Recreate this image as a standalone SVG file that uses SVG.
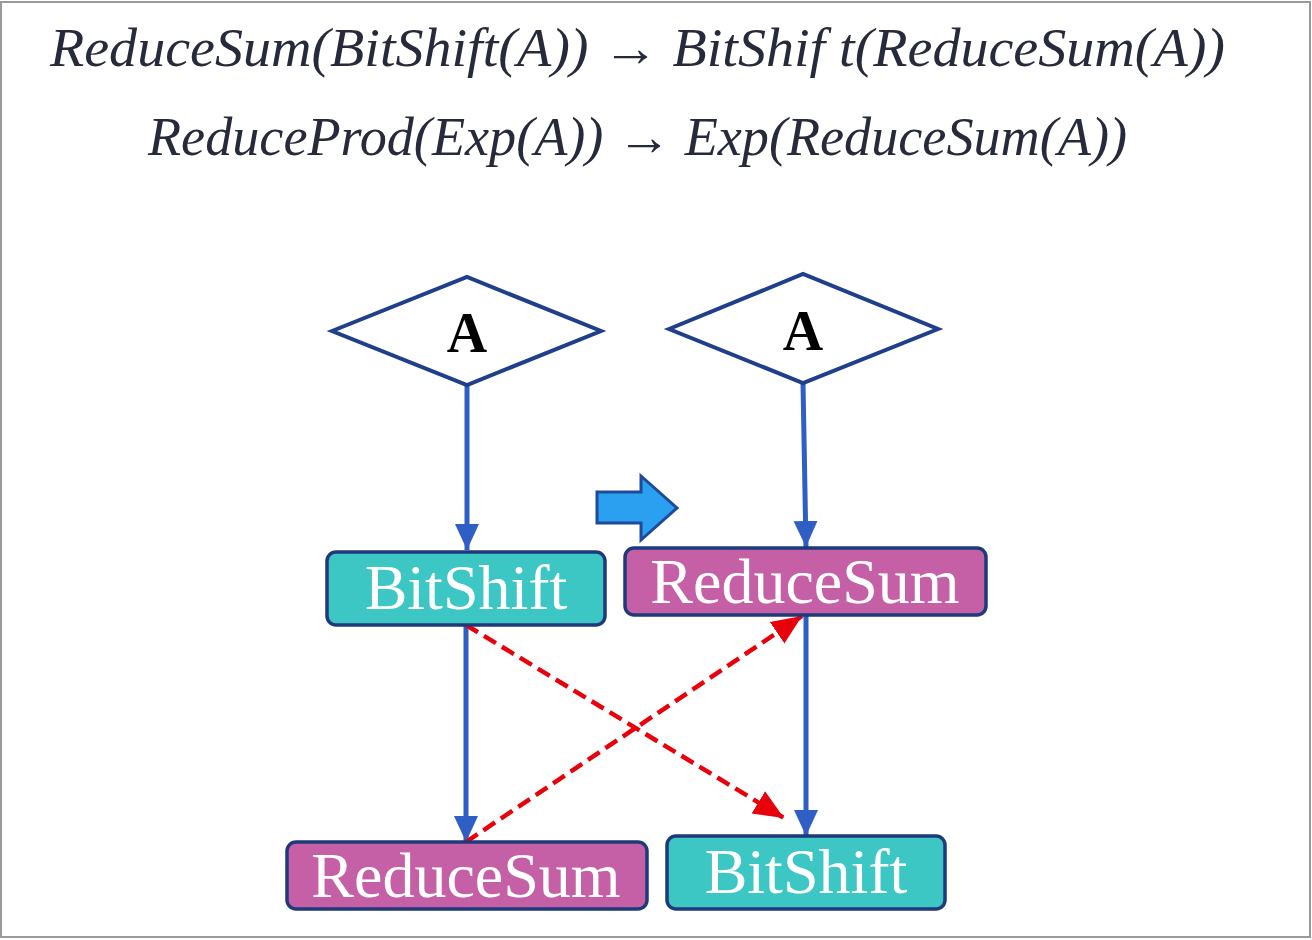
<svg xmlns="http://www.w3.org/2000/svg" width="1312" height="940" viewBox="0 0 1312 940">
<style>
.formula{font-family:"Liberation Serif","DejaVu Serif",serif;font-style:italic;font-size:54px;fill:#262a3a}
.dia{fill:#fff;stroke:#1f3f8a;stroke-width:4}
.dlabel{font-family:"Liberation Serif",serif;font-weight:bold;font-size:56px;fill:#000;text-anchor:middle}
.cyan{fill:#3cc6c4;stroke:#1f3a7a;stroke-width:3.5}
.pink{fill:#c560a6;stroke:#1f3a7a;stroke-width:3.5}
.blabel{font-family:"Liberation Serif",serif;font-size:64px;fill:#fff;text-anchor:middle}
.flow{stroke:#2f5fc4;stroke-width:5;fill:none}
.dash{stroke:#e8000b;stroke-width:4.5;fill:none;stroke-dasharray:14 7}
</style>
<defs>
<marker id="bh" viewBox="0 0 26 26" markerWidth="26" markerHeight="26" refX="26" refY="13" orient="auto" markerUnits="userSpaceOnUse">
<path d="M0,1 L26,13 L0,25 z" fill="#2f5fc4"/>
</marker>
<marker id="rh" viewBox="0 0 30 30" markerWidth="30" markerHeight="30" refX="30" refY="15" orient="auto" markerUnits="userSpaceOnUse">
<path d="M0,2 L30,15 L0,28 z" fill="#e8000b"/>
</marker>
</defs>
<rect x="1" y="2" width="1309" height="935" fill="#fff" stroke="#9a9a9a" stroke-width="2"/>
<g id="formulas">
<text class="formula" x="50" y="66" textLength="1175" lengthAdjust="spacingAndGlyphs">ReduceSum(BitShift(A)) → BitShif t(ReduceSum(A))</text>
<text class="formula" x="148" y="155" textLength="979" lengthAdjust="spacingAndGlyphs">ReduceProd(Exp(A)) → Exp(ReduceSum(A))</text>
</g>
<g id="connectors">
<line class="flow" x1="467" y1="385" x2="467" y2="550" marker-end="url(#bh)"/>
<line class="flow" x1="803" y1="383" x2="806" y2="547" marker-end="url(#bh)"/>
<line class="flow" x1="466" y1="625" x2="466" y2="842" marker-end="url(#bh)"/>
<line class="flow" x1="806" y1="615" x2="806" y2="836" marker-end="url(#bh)"/>
<line class="dash" x1="466" y1="625" x2="784" y2="818" marker-end="url(#rh)"/>
<line class="dash" x1="466" y1="842" x2="802" y2="616" marker-end="url(#rh)"/>
</g>
<g id="transform-arrow">
<path d="M597,492 L641,492 L641,476 L677,508 L641,540 L641,523 L597,523 z" fill="#2b9ff0" stroke="#1f4a9a" stroke-width="3" stroke-linejoin="miter"/>
</g>
<g id="left-A">
<polygon class="dia" points="332,331 467,277 601,331 467,385"/>
<text class="dlabel" x="467" y="352">A</text>
</g>
<g id="right-A">
<polygon class="dia" points="669,329 803,274 938,329 803,383"/>
<text class="dlabel" x="803" y="350">A</text>
</g>
<g id="left-bitshift">
<rect class="cyan" x="327" y="552" width="278" height="73" rx="9"/>
<text class="blabel" x="466" y="609">BitShift</text>
</g>
<g id="right-reducesum">
<rect class="pink" x="625" y="548" width="361" height="67" rx="9"/>
<text class="blabel" x="805" y="603">ReduceSum</text>
</g>
<g id="left-reducesum">
<rect class="pink" x="287" y="842" width="360" height="67" rx="9"/>
<text class="blabel" x="466" y="897">ReduceSum</text>
</g>
<g id="right-bitshift">
<rect class="cyan" x="667" y="836" width="278" height="73" rx="9"/>
<text class="blabel" x="806" y="893">BitShift</text>
</g>
</svg>
